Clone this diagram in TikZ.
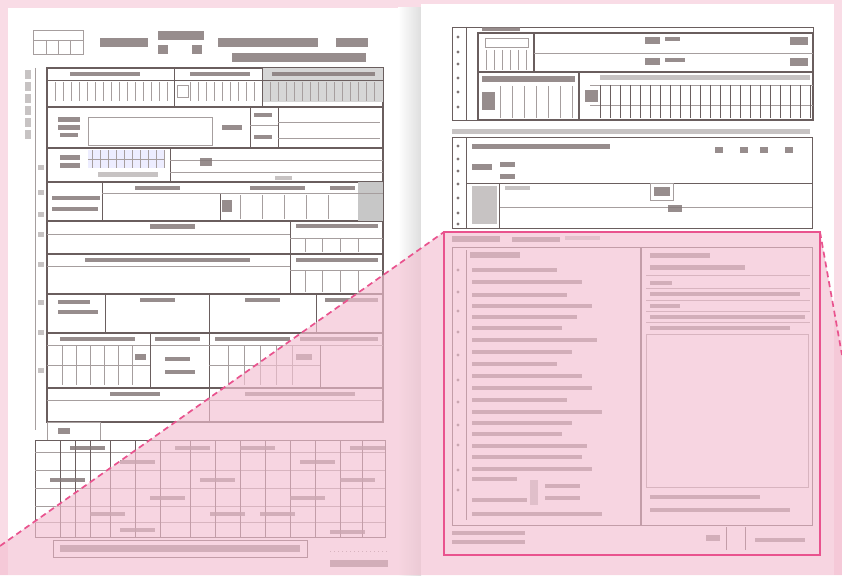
\documentclass[tikz,border=0pt]{standalone}
\usepackage{xcolor}
\definecolor{pagepink}{HTML}{F9DCE6}
\definecolor{hlpink}{HTML}{F3C0D1}
\definecolor{linkpink}{HTML}{E9538E}
\definecolor{formline}{HTML}{6A5E5E}
\definecolor{inkgrey}{HTML}{857A7A}

\begin{document}
\begin{tikzpicture}[x=1pt, y=-1pt,
    formframe/.style={draw=formline, line width=1.3pt},
    formrule/.style={draw=formline, line width=0.7pt},
    hair/.style={draw=formline!60, line width=0.5pt},
    txt/.style={fill=inkgrey, opacity=0.85},
    lighttxt/.style={fill=inkgrey, opacity=0.45},
    greyfill/.style={fill=black!16},
    bulletdot/.style={circle, fill=formline!85, inner sep=1.2pt}]

    % Paper and the two pages
    \fill[pagepink] (0,0) rectangle (842,575);
    \fill[white] (8,8) rectangle (412,575);
    \shade[left color=white, right color=black!13] (398,8) rectangle (421,575);
    \fill[white] (421,4) rectangle (834,575);
    \useasboundingbox (0,0) rectangle (842,575);

    % ---------------- left page ----------------
    \begin{scope}
        % title block
        \draw[hair] (33,30) rectangle (83,54);
        \draw[hair] (33,40) -- (83,40);
        \foreach \x in {46,58,70} \draw[hair] (\x,40) -- (\x,54);
        \fill[txt] (100,38) rectangle (148,47);
        \fill[txt] (158,31) rectangle (204,40);
        \fill[txt] (158,45) rectangle (168,54);
        \fill[txt] (192,45) rectangle (202,54);
        \fill[txt] (218,38) rectangle (318,47);
        \fill[txt] (336,38) rectangle (368,47);
        \fill[txt] (232,53) rectangle (366,62);

        % margin column
        \draw[hair] (35,68) -- (35,430);
        \foreach \y in {70,82,94,106,118,130} \fill[lighttxt] (25,\y) rectangle (31,\y+9);
        \foreach \y in {165,190,212,232,262,300,330,368} \fill[lighttxt] (38,\y) rectangle (44,\y+5);

        % main frame and its rows
        \draw[formframe] (47,68) rectangle (383,422);
        \foreach \y in {107,148,182,221,254,294,333,388}
            \draw[formframe] (47,\y) -- (383,\y);

        % row 1
        \fill[greyfill] (262,68) rectangle (383,102);
        \draw[formrule] (47,80) -- (383,80);
        \draw[formrule] (174,68) -- (174,107);
        \draw[formrule] (262,68) -- (262,107);
        \foreach \x in {55,63,...,167} \draw[hair] (\x,82) -- (\x,101);
        \foreach \x in {190,198,...,258} \draw[hair] (\x,82) -- (\x,101);
        \foreach \x in {270,278,...,378} \draw[hair] (\x,82) -- (\x,101);
        \draw[hair] (177,85) rectangle (188,97);
        \fill[txt] (70,72) rectangle (140,76);
        \fill[txt] (190,72) rectangle (250,76);
        \fill[txt] (272,72) rectangle (375,76);

        % row 2
        \fill[txt] (58,117) rectangle (80,122);
        \fill[txt] (58,125) rectangle (80,130);
        \fill[txt] (60,133) rectangle (78,137);
        \draw[hair] (88,117) rectangle (212,145);
        \fill[txt] (222,125) rectangle (242,130);
        \draw[formrule] (250,107) -- (250,148);
        \draw[formrule] (278,107) -- (278,148);
        \fill[txt] (254,113) rectangle (272,117);
        \fill[txt] (254,135) rectangle (272,139);
        \draw[hair] (250,125) -- (278,125);
        \draw[hair] (278,122) -- (380,122);
        \draw[hair] (278,138) -- (380,138);

        % row 3
        \fill[txt] (60,155) rectangle (80,160);
        \fill[txt] (60,163) rectangle (80,168);
        \fill[blue!7] (88,150) rectangle (165,168);
        \draw[hair] (88,159) -- (165,159);
        \foreach \x in {92,100,...,164} \draw[hair] (\x,150) -- (\x,168);
        \fill[lighttxt] (98,172) rectangle (158,177);
        \draw[formrule] (170,148) -- (170,182);
        \draw[hair] (170,160) -- (383,160);
        \draw[hair] (170,172) -- (383,172);
        \fill[txt] (200,158) rectangle (212,166);
        \fill[lighttxt] (275,176) rectangle (292,180);

        % row 4
        \fill[black!22] (358,182) rectangle (383,221);
        \draw[formrule] (102,182) -- (102,221);
        \draw[formrule] (220,193) -- (220,221);
        \draw[hair] (102,193) -- (383,193);
        \foreach \x in {240,262,284,306,328} \draw[hair] (\x,195) -- (\x,219);
        \fill[txt] (135,186) rectangle (180,190);
        \fill[txt] (250,186) rectangle (305,190);
        \fill[txt] (330,186) rectangle (355,190);
        \fill[txt] (52,196) rectangle (100,200);
        \fill[txt] (52,207) rectangle (98,211);
        \fill[txt] (222,200) rectangle (232,212);

        % rows 5 and 6
        \draw[formrule] (290,221) -- (290,294);
        \draw[hair] (47,234) -- (290,234);
        \draw[hair] (47,266) -- (290,266);
        \fill[txt] (150,224) rectangle (195,229);
        \fill[txt] (85,258) rectangle (250,262);
        \fill[txt] (296,224) rectangle (378,228);
        \fill[txt] (296,258) rectangle (378,262);
        \draw[hair] (290,238) -- (383,238);
        \draw[hair] (290,270) -- (383,270);
        \foreach \x in {305,322,340,358} {
            \draw[hair] (\x,238) -- (\x,252);
            \draw[hair] (\x,270) -- (\x,292);
        }

        % row 7
        \draw[formrule] (105,294) -- (105,333);
        \draw[formrule] (209,294) -- (209,422);
        \draw[formrule] (316,294) -- (316,333);
        \fill[txt] (58,300) rectangle (90,304);
        \fill[txt] (58,310) rectangle (98,314);
        \fill[txt] (140,298) rectangle (175,302);
        \fill[txt] (245,298) rectangle (280,302);
        \fill[txt] (325,298) rectangle (378,302);

        % row 8
        \draw[hair] (47,345) -- (383,345);
        \draw[hair] (47,365) -- (150,365);
        \draw[hair] (209,365) -- (320,365);
        \foreach \x in {62,76,90,104,118,132} \draw[hair] (\x,345) -- (\x,385);
        \foreach \x in {228,244,260,276,292} \draw[hair] (\x,345) -- (\x,385);
        \draw[formrule] (150,333) -- (150,388);
        \draw[formrule] (320,345) -- (320,388);
        \fill[txt] (60,337) rectangle (135,341);
        \fill[txt] (155,337) rectangle (200,341);
        \fill[txt] (215,337) rectangle (290,341);
        \fill[txt] (300,337) rectangle (378,341);
        \fill[txt] (165,357) rectangle (190,361);
        \fill[txt] (165,370) rectangle (195,374);
        \fill[txt] (135,354) rectangle (146,360);
        \fill[txt] (296,354) rectangle (312,360);

        % row 9
        \draw[hair] (47,400) -- (383,400);
        \fill[txt] (110,392) rectangle (160,396);
        \fill[txt] (245,392) rectangle (355,396);

        % lower table
        \draw[hair] (47,422) rectangle (100,440);
        \fill[txt] (58,428) rectangle (70,434);
        \draw[formrule] (35,440) rectangle (385,537);
        \foreach \y in {452,470,488,506,522} \draw[hair] (35,\y) -- (385,\y);
        \foreach \x in {60,75,90,110,135,160,190,215,240,265,290,315,340,362}
            \draw[formrule] (\x,440) -- (\x,537);
        \foreach \x/\y in {70/446,120/460,200/478,240/446,300/460,340/478,150/496,260/512,
                           330/530,90/512,175/446,290/496,50/478,210/512,120/528,350/446}
            \fill[txt] (\x,\y) rectangle (\x+35,\y+4);

        % foot note box
        \draw[formrule] (53,540) rectangle (307,557);
        \fill[txt] (60,545) rectangle (300,552);
        \draw[hair, dash pattern=on 1pt off 3pt] (330,551) -- (388,551);
        \fill[txt] (330,560) rectangle (388,567);
    \end{scope}

    % ---------------- right page ----------------
    \begin{scope}
        % top block
        \draw[formrule] (452,27) rectangle (813,120);
        \draw[formframe] (478,33) rectangle (813,120);
        \draw[formframe] (534,33) -- (534,72);
        \draw[formframe] (478,72) -- (813,72);
        \draw[formframe] (579,72) -- (579,120);
        \draw[hair] (534,53) -- (813,53);
        \draw[formrule] (466,27) -- (466,120);
        \foreach \y in {37,52,64,78,92,107} \node[bulletdot] (topdot\y) at (458,\y) {};
        \fill[txt] (482,27) rectangle (520,31);
        \draw[hair] (485,38) rectangle (528,47);
        \foreach \x in {486,494,...,526} \draw[hair] (\x,50) -- (\x,70);
        \fill[txt] (645,37) rectangle (660,44);
        \fill[txt] (665,37) rectangle (680,41);
        \fill[txt] (645,58) rectangle (660,65);
        \fill[txt] (665,58) rectangle (685,62);
        \fill[txt] (790,37) rectangle (808,45);
        \fill[txt] (790,58) rectangle (808,66);
        \fill[txt] (482,76) rectangle (575,82);
        \fill[txt] (482,92) rectangle (495,110);
        \foreach \x in {500,512,...,572} \draw[hair] (\x,86) -- (\x,118);
        \fill[txt] (585,90) rectangle (598,102);
        \fill[lighttxt] (600,75) rectangle (810,80);
        \draw[hair] (590,85) -- (813,85);
        \draw[hair] (590,105) -- (813,105);
        \foreach \x in {600,610,...,810} \draw[formrule] (\x,85) -- (\x,118);

        % notice line
        \fill[lighttxt] (452,129) rectangle (810,134);

        % second block
        \draw[formrule] (452,137) rectangle (812,228);
        \draw[formrule] (466,137) -- (466,228);
        \foreach \y in {146,159,171,184,198,213,224} \node[bulletdot] (middot\y) at (458,\y) {};
        \fill[txt] (472,144) rectangle (610,149);
        \fill[txt] (472,164) rectangle (492,170);
        \fill[txt] (500,162) rectangle (515,167);
        \fill[txt] (500,174) rectangle (515,179);
        \foreach \x in {715,740,760,785} \fill[txt] (\x,147) rectangle (\x+8,153);
        \draw[formrule] (466,183) -- (812,183);
        \draw[hair] (499,207) -- (812,207);
        \draw[formrule] (499,183) -- (499,228);
        \fill[lighttxt] (472,186) rectangle (497,224);
        \fill[lighttxt] (505,186) rectangle (530,190);
        \draw[hair] (650,183) rectangle (673,200);
        \fill[txt] (654,187) rectangle (670,196);
        \fill[txt] (668,205) rectangle (682,212);

        % block inside the highlight
        \fill[txt] (452,236) rectangle (500,242);
        \fill[txt] (512,237) rectangle (560,242);
        \fill[lighttxt] (565,236) rectangle (600,240);
        \draw[formrule] (452,247) rectangle (812,525);
        \draw[formrule] (466,250) -- (466,520);
        \draw[formframe] (641,248) -- (641,525);
        \foreach \y in {270,292,311,332,355,380,402,425,445,470,490}
            \node[bulletdot] (lowdot\y) at (458,\y) {};
        \fill[txt] (470,252) rectangle (520,258);
        \fill[txt] (650,253) rectangle (710,258);
        \foreach \y/\w in {268/85,280/110,293/95,304/120,315/105,326/90,338/125,350/100,
                           362/85,374/110,386/120,398/95,410/130,421/100,432/90,
                           444/115,455/110,467/120,477/45,498/55,512/130}
            \fill[txt] (472,\y) rectangle (472+\w,\y+4);
        \fill[black!25] (530,480) rectangle (538,505);
        \fill[txt] (545,484) rectangle (580,488);
        \fill[txt] (545,496) rectangle (580,500);
        \fill[txt] (650,265) rectangle (745,270);
        \fill[txt] (650,281) rectangle (672,285);
        \fill[txt] (650,292) rectangle (800,296);
        \fill[txt] (650,304) rectangle (680,308);
        \fill[txt] (650,315) rectangle (805,319);
        \fill[txt] (650,326) rectangle (790,330);
        \foreach \y in {275,288,300,311,322} \draw[hair] (646,\y) -- (810,\y);
        \draw[hair] (646,334) rectangle (808,487);
        \fill[txt] (650,495) rectangle (760,499);
        \fill[txt] (650,508) rectangle (790,512);
        \fill[txt] (452,531) rectangle (525,535);
        \fill[txt] (452,540) rectangle (525,544);
        \draw[formrule] (726,527) -- (726,550);
        \draw[formrule] (745,527) -- (745,550);
        \fill[txt] (706,535) rectangle (720,541);
        \fill[txt] (755,538) rectangle (805,542);
    \end{scope}

    % ---------------- highlight ----------------
    \coordinate (edgeW) at (0,546);
    \coordinate (boxNW) at (444,232);
    \coordinate (boxNE) at (820,232);
    \coordinate (boxSE) at (820,555);
    \coordinate (edgeE) at (842,355);
    \fill[hlpink, opacity=0.65] (edgeW) -- (boxNW) -- (boxNE) -- (edgeE)
        -- (842,575) -- (0,575) -- cycle;
    \draw[linkpink, line width=1.7pt, dash pattern=on 6pt off 4pt] (edgeW) -- (boxNW);
    \draw[linkpink, line width=1.7pt, dash pattern=on 6pt off 4pt] (boxNE) -- (edgeE);
    \draw[linkpink, line width=2pt] (boxNW) rectangle (boxSE);
\end{tikzpicture}
\end{document}
